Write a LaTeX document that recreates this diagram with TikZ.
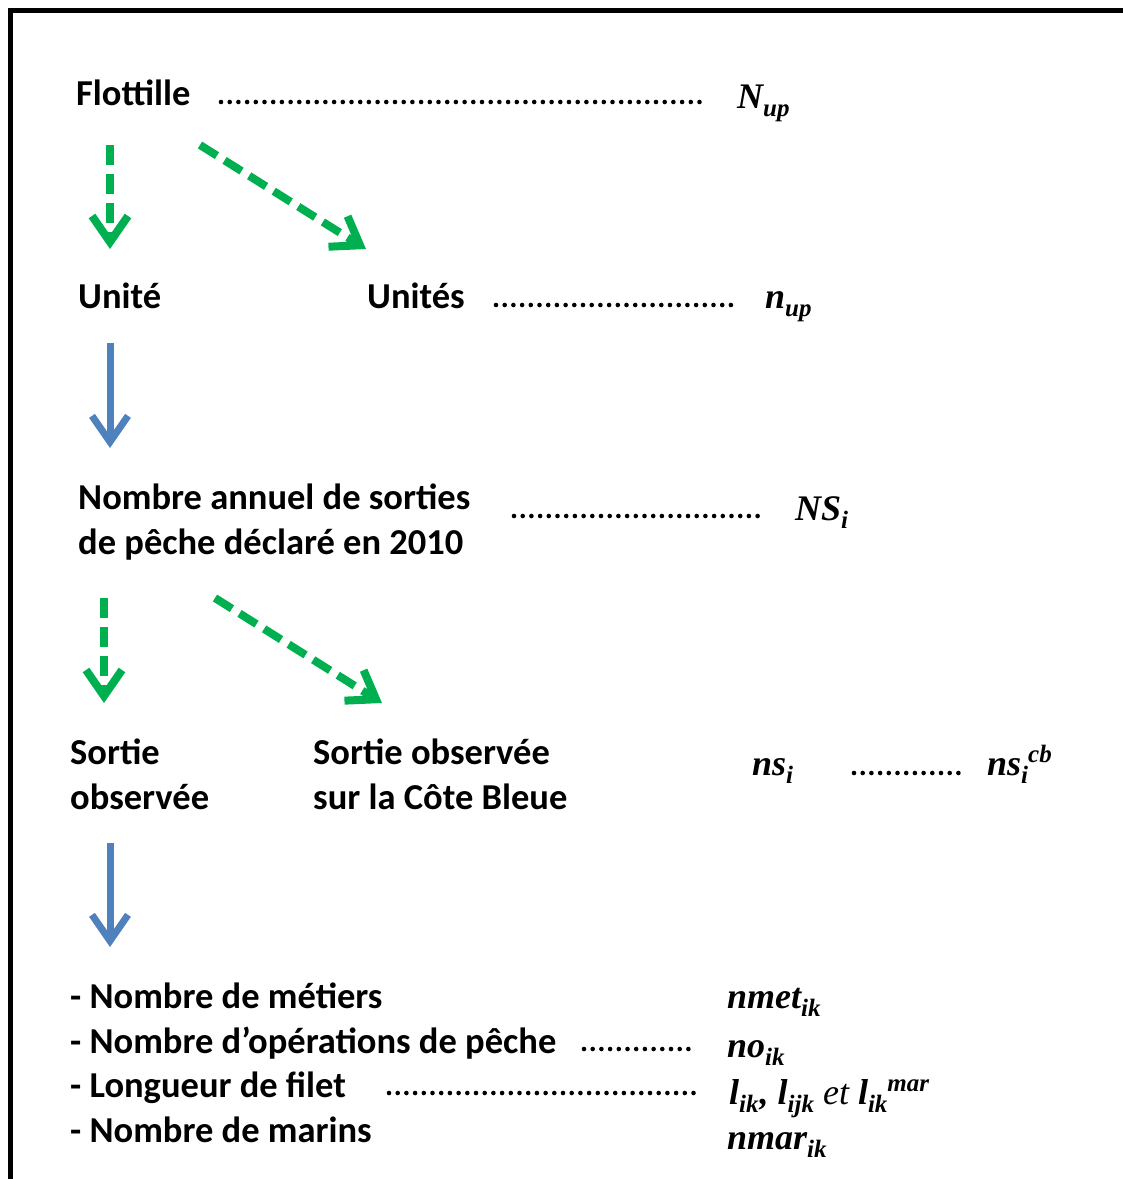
\documentclass[tikz,border=0pt]{standalone}
\usepackage{fontspec}
\setmainfont{Carlito}
\newfontfamily\lblfont{Liberation Serif}
\usetikzlibrary{arrows.meta}
\definecolor{grn}{HTML}{00B050}
\definecolor{blu}{HTML}{4F81BD}
\newcommand\lsub[1]{\raisebox{-8pt}{\fontsize{25}{25}\selectfont #1}}
\newcommand\lsup[1]{\raisebox{13pt}{\fontsize{25}{25}\selectfont #1}}
\tikzset{
  txt/.style={inner sep=0pt, font=\fontsize{36.5}{44}\selectfont\bfseries, anchor=base west},
  txtml/.style={inner sep=0pt, font=\fontsize{36.5}{44.5}\selectfont\bfseries, anchor=north west, align=left},
  lbl/.style={inner sep=0pt, font=\fontsize{36}{40}\lblfont\bfseries\itshape, anchor=base west},
  leader/.style={line width=4.6pt, line cap=round, dash pattern=on 0pt off 8.7pt},
  garrow/.style={draw=grn, line width=8pt, dash pattern=on 20pt off 9pt, -{Straight Barb[length=26pt,width=36pt,line width=8pt]}},
  barrow/.style={draw=blu, line width=7pt, -{Straight Barb[length=26pt,width=36pt,line width=7pt]}},
}
\begin{document}
\begin{tikzpicture}[x=1pt,y=-1pt]
\useasboundingbox (0,0) rectangle (1123,1179);
% frame
\draw[line width=5pt] (10,1179) -- (10,10) -- (1123,10);

% row 1
\node[txt] (flot) at (76,105) {Flottille};
\coordinate (d1a) at (221,102); \coordinate (d1b) at (705,102);
\draw[leader] (d1a) -- (d1b);
\node[lbl] (Nup) at (737,108) {N\lsub{up}};

% arrows 1
\coordinate (g1a) at (110,145); \coordinate (g1b) at (110,249);
\coordinate (g2a) at (200,145); \coordinate (g2b) at (366,249);
\draw[garrow] (g1a) -- (g1b);
\draw[garrow] (g2a) -- (g2b);

% row 2
\node[txt] (unite) at (78,308) {Unité};
\node[txt] (unites) at (367,308) {Unités};
\coordinate (d2a) at (496,305); \coordinate (d2b) at (731,305);
\draw[leader] (d2a) -- (d2b);
\node[lbl] (nup) at (765,308) {n\lsub{up}};

% blue arrow 1
\coordinate (b1a) at (110,343); \coordinate (b1b) at (110,448);
\draw[barrow] (b1a) -- (b1b);

% row 3
\node[txtml] (nombre) at (78,484) {Nombre annuel de sorties\\de pêche déclaré en 2010};
\coordinate (d3a) at (514,516); \coordinate (d3b) at (758,516);
\draw[leader] (d3a) -- (d3b);
\node[lbl] (NSi) at (795,520) {NS\lsub{i}};

% arrows 2
\coordinate (g3a) at (104,598); \coordinate (g3b) at (104,703);
\coordinate (g4a) at (215,598); \coordinate (g4b) at (382,703);
\draw[garrow] (g3a) -- (g3b);
\draw[garrow] (g4a) -- (g4b);

% row 4
\node[txtml] (sortie) at (70,739) {Sortie\\observée};
\node[txtml] (sortiecb) at (313,739) {Sortie observée\\sur la Côte Bleue};
\node[lbl] (nsi) at (752,775) {ns\lsub{i}};
\coordinate (d4a) at (854,773); \coordinate (d4b) at (965,773);
\draw[leader] (d4a) -- (d4b);
\node[lbl] (nsicb) at (987,775) {ns\lsub{i}\lsup{cb}};

% blue arrow 2
\coordinate (b2a) at (110,843); \coordinate (b2b) at (110,947);
\draw[barrow] (b2a) -- (b2b);

% list
\node[txtml] (liste) at (70,983) {- Nombre de métiers\\- Nombre d’opérations de pêche\\- Longueur de filet\\- Nombre de marins};
\coordinate (d5a) at (584,1049); \coordinate (d5b) at (695,1049);
\draw[leader] (d5a) -- (d5b);
\coordinate (d6a) at (389,1093); \coordinate (d6b) at (698,1093);
\draw[leader] (d6a) -- (d6b);

\node[lbl] (nmet) at (727,1008) {nmet\lsub{ik}};
\node[lbl] (no) at (727,1057) {no\lsub{ik}};
\node[lbl] (lik) at (729,1104) {l\lsub{ik}\hspace{1pt},\hspace{9pt}l\lsub{ijk}\hspace{9pt}{\mdseries et}\hspace{9pt}l\lsub{ik}\lsup{mar}};
\node[lbl] (nmar) at (727,1149) {nmar\lsub{ik}};
\end{tikzpicture}
\end{document}
